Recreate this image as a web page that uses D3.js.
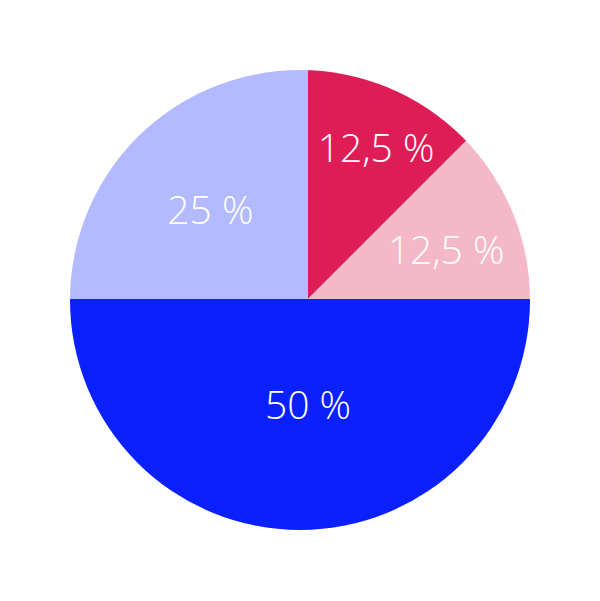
<!DOCTYPE html>
<html>
<head>
<meta charset="utf-8">
<script src="https://cdn.jsdelivr.net/npm/d3@7"></script>
<style>
  html, body { margin: 0; padding: 0; background: #ffffff; }
  svg { display: block; }
</style>
</head>
<body>
<div id="chart"></div>
<script>
// Data (clockwise from 12 o'clock)
const categories = ["A", "B", "C", "D"];
const values = [12.5, 12.5, 50, 25];
const labels = ["12,5 %", "12,5 %", "50 %", "25 %"];
const colors = ["#DE1D56", "#F4B8C9", "#0A20FF", "#B4BAFF"];

const width = 600, height = 601;
const cx = 300, cy = 300, radius = 230;
// apex of the slices is slightly offset from the circle centre
const ax = 308, ay = 299;

const svg = d3.select("#chart").append("svg")
  .attr("width", width).attr("height", height);

svg.append("defs").append("clipPath").attr("id", "circ")
  .append("circle").attr("cx", cx).attr("cy", cy).attr("r", radius);

const pie = d3.pie().sort(null).value(d => d.value);
const arcs = pie(categories.map((c, i) => ({ cat: c, value: values[i], label: labels[i], color: colors[i] })));

const arcGen = d3.arc().innerRadius(0).outerRadius(radius + 20);

const g = svg.append("g").attr("clip-path", "url(#circ)");
g.append("g").attr("transform", `translate(${ax},${ay})`)
  .selectAll("path").data(arcs).join("path")
  .attr("d", arcGen)
  .attr("fill", d => d.data.color);

// labels at the geometric centroid of each sector
const fontSize = 39;
function centroid(d) {
  const th = d.endAngle - d.startAngle, mid = (d.startAngle + d.endAngle) / 2;
  let rc = 2 * radius * Math.sin(th / 2) / (3 * th / 2);
  let a = mid;
  // first small slice label sits a bit further out / later in the reference
  if (d.index === 0) { rc *= 1.11; a = mid + 0.03; }
  return [rc * Math.sin(a), -rc * Math.cos(a)];
}
const lg = svg.append("g").attr("transform", `translate(${ax},${ay})`);
lg.selectAll("text").data(arcs).join("text")
  .attr("x", d => centroid(d)[0])
  .attr("y", d => centroid(d)[1])
  .attr("dy", d => d.index === 0 ? "0.36em" : "0.57em")
  .attr("text-anchor", "middle")
  .attr("fill", "#ffffff")
  .style("font-family", "'Open Sans', 'Noto Sans', sans-serif")
  .style("font-weight", 300)
  .style("font-size", fontSize + "px")
  .text(d => d.data.label);
</script>
</body>
</html>
